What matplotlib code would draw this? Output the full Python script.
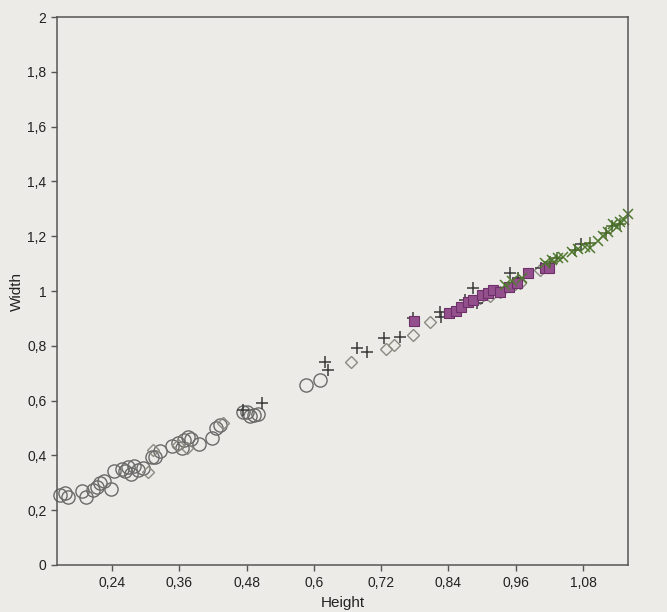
import matplotlib
matplotlib.use("Agg")
import matplotlib.pyplot as plt
from matplotlib.ticker import FuncFormatter

plt.rcParams['font.family'] = ['Liberation Sans', 'DejaVu Sans']

# Circles (open, gray)
circ_x = [0.147, 0.156, 0.162, 0.186, 0.194, 0.206, 0.213, 0.219, 0.226, 0.238,
          0.244, 0.258, 0.263, 0.269, 0.274, 0.279, 0.286, 0.295, 0.311, 0.317,
          0.326, 0.347, 0.358, 0.365, 0.368, 0.376, 0.381, 0.395, 0.418, 0.425,
          0.433, 0.474, 0.481, 0.486, 0.493, 0.500, 0.586, 0.611]
circ_y = [0.255, 0.263, 0.248, 0.270, 0.248, 0.274, 0.285, 0.299, 0.307, 0.277,
          0.343, 0.350, 0.343, 0.358, 0.332, 0.361, 0.347, 0.354, 0.394, 0.394,
          0.416, 0.434, 0.445, 0.427, 0.456, 0.467, 0.460, 0.442, 0.463, 0.500,
          0.511, 0.558, 0.558, 0.544, 0.547, 0.551, 0.657, 0.675]

# Diamonds (open, gray)
dia_x = [0.304, 0.313, 0.358, 0.374, 0.438, 0.666, 0.729, 0.743, 0.777, 0.807,
         0.896, 0.914, 0.932, 0.959, 0.968, 1.003]
dia_y = [0.339, 0.420, 0.438, 0.427, 0.518, 0.741, 0.788, 0.803, 0.839, 0.887,
         0.974, 0.982, 0.996, 1.026, 1.029, 1.077]

# Plus markers (dark)
plus_x = [0.474, 0.507, 0.620, 0.625, 0.677, 0.695, 0.725, 0.754, 0.777, 0.825,
          0.827, 0.869, 0.884, 0.891, 0.950, 0.964, 1.005, 1.076]
plus_y = [0.566, 0.591, 0.741, 0.712, 0.792, 0.777, 0.828, 0.832, 0.901, 0.923,
          0.905, 0.967, 1.011, 0.956, 1.066, 1.047, 1.084, 1.172]

# Purple filled squares
sq_x = [0.779, 0.841, 0.853, 0.862, 0.875, 0.884, 0.900, 0.910, 0.919, 0.932,
        0.948, 0.962, 0.982, 1.012, 1.019]
sq_y = [0.891, 0.920, 0.927, 0.942, 0.960, 0.967, 0.985, 0.993, 1.004, 0.996,
        1.015, 1.029, 1.066, 1.084, 1.084]

# Green x markers
gx_x = [0.941, 0.953, 0.971, 1.012, 1.025, 1.035, 1.044, 1.060, 1.071, 1.083,
        1.092, 1.107, 1.116, 1.124, 1.133, 1.140, 1.146, 1.153, 1.160]
gx_y = [1.022, 1.036, 1.047, 1.102, 1.113, 1.120, 1.124, 1.142, 1.153, 1.161,
        1.157, 1.182, 1.201, 1.215, 1.245, 1.234, 1.252, 1.259, 1.281]

# Green plus markers
gp_x = [1.021, 1.034, 1.066, 1.092, 1.121, 1.132, 1.146]
gp_y = [1.106, 1.120, 1.150, 1.175, 1.212, 1.237, 1.245]

xticks = [0.24, 0.36, 0.48, 0.6, 0.72, 0.84, 0.96, 1.08]
yticks = [0, 0.2, 0.4, 0.6, 0.8, 1.0, 1.2, 1.4, 1.6, 1.8, 2.0]

bg = '#ecebe8'
fig = plt.figure(figsize=(6.67, 6.12), dpi=100, facecolor=bg)
ax = fig.add_axes([0.0862, 0.0768, 0.8553, 0.8954], facecolor=bg)

ax.plot(circ_x, circ_y, 'o', ms=9.5, mfc='none', mec='#6a6a6a', mew=1.0, clip_on=False)
ax.plot(dia_x, dia_y, 'D', ms=6, mfc='none', mec='#8a8a80', mew=1.0)
ax.plot(plus_x, plus_y, '+', ms=9, mec='#3a3a3a', mew=1.1)
ax.plot(sq_x, sq_y, 's', ms=6.8, mfc='#94508c', mec='#6e3068', mew=0.8)
ax.plot(gx_x, gx_y, 'x', ms=7.5, mec='#4f7a30', mew=1.1, clip_on=False)
ax.plot(gp_x, gp_y, '+', ms=8, mec='#4a6a2a', mew=1.1)

ax.set_xlim(0.143, 1.160)
ax.set_ylim(0, 2)
ax.set_xticks(xticks)
ax.set_yticks(yticks)

def fmt(v, pos):
    s = ('%.2f' % v).rstrip('0').rstrip('.')
    return s.replace('.', ',')

ax.xaxis.set_major_formatter(FuncFormatter(fmt))
ax.yaxis.set_major_formatter(FuncFormatter(fmt))

for sp in ax.spines.values():
    sp.set_color('#555555')
    sp.set_linewidth(1.1)

ax.tick_params(axis='both', direction='out', length=4, width=1, color='#555555',
               labelsize=10, labelcolor='#222222', pad=4)
ax.set_xlabel('Height', fontsize=11, color='#222222', labelpad=4)
ax.set_ylabel('Width', fontsize=11, color='#222222', labelpad=2)

fig.savefig('out.png', dpi=100, facecolor=bg)
